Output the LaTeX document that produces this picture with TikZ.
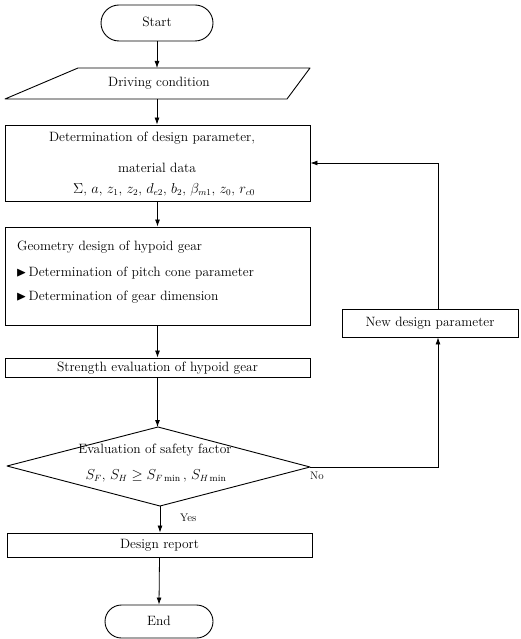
\documentclass[tikz,border=0pt]{standalone}
\usepackage{amsmath,amssymb}
\usepackage{fontspec}
\usetikzlibrary{arrows.meta,shapes.misc,calc}
\newcommand{\mybul}{\raisebox{0.3pt}{$\blacktriangleright$}\hspace{2pt}}
\begin{document}
\begin{tikzpicture}[x=1pt,y=-1pt,
  every node/.style={font=\fontsize{13.5}{16}\selectfont},
  box/.style={draw,line width=0.9pt,rectangle,inner sep=0pt,text height=9.5pt,text depth=2.5pt},
  term/.style={draw,line width=0.9pt,rounded rectangle,inner sep=0pt,text height=9.5pt,text depth=2.5pt},
  outline/.style={draw,line width=0.9pt,line join=round},
  arr/.style={line width=0.8pt,-{Latex[length=7pt,width=5pt]}},
  lbl/.style={inner sep=0pt,text height=9.5pt,text depth=2.5pt},
  small/.style={font=\fontsize{11}{13}\selectfont,inner sep=0pt,text height=8pt,text depth=2pt}]
\useasboundingbox (0,0) rectangle (520,639);

% Start
\node[term,minimum width=112pt,minimum height=36pt] (start) at (157,23) {Start};

% Driving condition (parallelogram)
\coordinate (dtl) at (78,68);
\coordinate (dtr) at (310,68);
\coordinate (dbr) at (287,99);
\coordinate (dbl) at (5,99);
\draw[outline] (dtl) -- (dtr) -- (dbr) -- (dbl) -- cycle;
\node[lbl] (drive) at (159,83.5) {Driving condition};
\coordinate (dtop) at (157,68);
\coordinate (dbot) at (157,99);

% Box 1
\node[box,minimum width=305pt,minimum height=76pt] (b1) at (157.5,163) {};
\node[lbl] (b1a) at (152,138) {Determination of design parameter,};
\node[lbl] (b1b) at (157,169) {material data};
\node[lbl] (b1c) at (164,190) {$\Sigma$, $a$, $z_1$, $z_2$, $d_{e2}$, $b_2$, $\beta_{m1}$, $z_0$, $r_{c0}$};

% Box 2
\node[box,minimum width=305pt,minimum height=98pt] (b2) at (157.5,276) {};
\node[lbl,anchor=west] (b2a) at (17,247) {Geometry design of\ hypoid gear};
\node[lbl,anchor=west] (b2b) at (16,273) {\mybul Determination of\ pitch cone parameter};
\node[lbl,anchor=west] (b2c) at (16,297) {\mybul Determination of\ gear dimension};

% Box 3
\node[box,minimum width=305pt,minimum height=19pt] (b3) at (157.5,367.5) {Strength evaluation of\ hypoid gear};

% Decision diamond
\coordinate (qt) at (158,427);
\coordinate (qr) at (310,467);
\coordinate (qb) at (160,506);
\coordinate (ql) at (7,466);
\draw[outline] (qt) -- (qr) -- (qb) -- (ql) -- cycle;
\node[lbl] (qa) at (155,450) {Evaluation of safety factor};
\node[lbl] (qm) at (156,476) {$S_F$, $S_H \geq S_{F\min}$\,, $S_{H\min}$};

% New design parameter
\node[box,minimum width=176pt,minimum height=28pt] (np) at (430,323) {New design parameter};

% Design report
\node[box,minimum width=305pt,minimum height=24pt] (rep) at (159.5,545) {Design report};

% End
\node[term,minimum width=108pt,minimum height=33pt] (stop) at (159,621.5) {End};

% Labels
\node[small,anchor=west] (no) at (310,476) {No};
\node[small,anchor=west] (yes) at (180,518) {Yes};

% Connectors
\coordinate (fx) at (438,0);
\draw[arr] (start.south) -- (dtop);
\draw[arr] (dbot) -- (dbot |- b1.north);
\draw[arr] (b1.south) -- (b2.north);
\draw[arr] (b2.south) -- (b3.north);
\draw[arr] (b3.south) -- (b3.south |- qt);
\draw[arr] (qb) -- (qb |- rep.north);
\draw[arr] (rep.south) -- (stop.north);
\draw[arr] (qr) -- (qr -| fx) -- (np.south -| fx);
\draw[arr] (np.north -| fx) |- (b1.east);
\end{tikzpicture}
\end{document}
